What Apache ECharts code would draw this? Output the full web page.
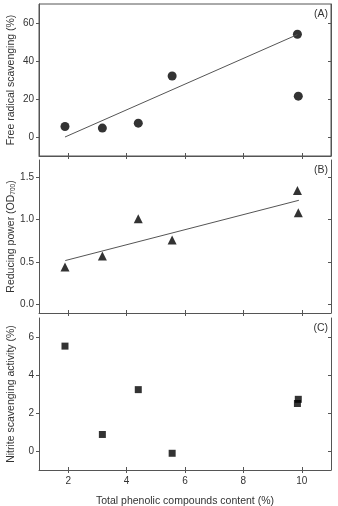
<!DOCTYPE html>
<html>
<head>
<meta charset="utf-8">
<script src="https://cdn.jsdelivr.net/npm/echarts@6/dist/echarts.min.js"></script>
<style>
  html, body { margin: 0; padding: 0; background: #fff; }
  #chart { width: 338px; height: 506px; }
</style>
</head>
<body>
<div id="chart"></div>
<script>
// values
const phenolic = [1.89, 3.17, 4.40, 5.56, 9.85, 9.88];
const freeRadical = [5.5, 4.7, 7.3, 32.1, 54.1, 21.5];
const reducingPower = [0.44, 0.57, 1.01, 0.76, 1.34, 1.08];
const nitrite = [5.52, 0.87, 3.23, -0.12, 2.50, 2.72];
const fitA = [[1.89, 0], [9.85, 53.9]];
const fitB = [[1.90, 0.517], [9.90, 1.226]];

const xTicks = [2, 4, 6, 8, 10];
const yTicksA = [0, 20, 40, 60];
const yTicksB = [0, 0.5, 1.0, 1.5];
const yTicksC = [0, 2, 4, 6];

const panelLabels = ["(A)", "(B)", "(C)"];
const yNames = [
  "Free radical scavenging (%)",
  "Reducing power (OD{sub|700})",
  "Nitrite scavenging activity (%)"
];
const xName = "Total phenolic compounds content (%)";

const font = "Liberation Sans, Arial, sans-serif";
const lineColor = "#555";
const textColor = "#333";

const grids = [
  { left: 39, right: 7, top: 4, height: 152 },
  { left: 39, right: 7, top: 160, height: 153 },
  { left: 39, right: 7, top: 318, height: 152 }
];
const yRanges = [[-10, 70], [-0.1, 1.7], [-1, 7]];
const yTicks = [yTicksA, yTicksB, yTicksC];

let xAxes = [];
let yAxes = [];
grids.forEach((g, p) => {
  let last = p == 2;
  xAxes.push({
    type: "value", gridIndex: p, min: 1, max: 11, position: "bottom",
    axisLine: { show: true, onZero: false, lineStyle: { color: lineColor, width: 1 } },
    axisTick: { show: true, inside: false, length: 3, customValues: xTicks, lineStyle: { color: lineColor } },
    axisLabel: { show: last, customValues: xTicks, fontSize: 10, color: textColor, fontFamily: font, margin: 6 },
    splitLine: { show: false },
    name: last ? xName : "", nameLocation: "middle", nameGap: 26,
    nameTextStyle: { fontSize: 10.5, color: textColor, fontFamily: font }
  });
  xAxes.push({
    type: "value", gridIndex: p, min: 1, max: 11, position: "bottom",
    axisLine: { show: false, onZero: false },
    axisTick: { show: true, inside: true, length: 3, customValues: xTicks, lineStyle: { color: lineColor } },
    axisLabel: { show: false },
    splitLine: { show: false }
  });
  yAxes.push({
    type: "value", gridIndex: p, min: yRanges[p][0], max: yRanges[p][1], position: "left",
    axisLine: { show: true, onZero: false, lineStyle: { color: lineColor, width: 1 } },
    axisTick: { show: true, inside: false, length: 3, customValues: yTicks[p], lineStyle: { color: lineColor } },
    axisLabel: {
      customValues: yTicks[p], fontSize: 10, color: textColor, fontFamily: font, margin: 5,
      formatter: v => (p == 1 ? v.toFixed(1) : String(v))
    },
    splitLine: { show: false },
    name: yNames[p], nameLocation: "middle", nameRotate: 90, nameGap: 22,
    nameMoveOverlap: false,
    nameTextStyle: {
      fontSize: 10.5, color: textColor, fontFamily: font,
      rich: { sub: { fontSize: 6.5, color: textColor, fontFamily: font, verticalAlign: "bottom", padding: [5, 0, 0, 0] } }
    }
  });
  yAxes.push({
    type: "value", gridIndex: p, min: yRanges[p][0], max: yRanges[p][1], position: "right",
    axisLine: { show: true, onZero: false, lineStyle: { color: lineColor, width: 1 } },
    axisTick: { show: true, inside: true, length: 3, customValues: yTicks[p], lineStyle: { color: lineColor } },
    axisLabel: { show: false },
    splitLine: { show: false }
  });
});

function pairs(ys) {
  return phenolic.map((x, i) => [x, ys[i]]);
}

const option = {
  animation: false,
  backgroundColor: "#fff",
  grid: grids.map((g, p) => Object.assign({ outerBoundsMode: "none", containLabel: false }, g, p == 0
    ? { show: true, borderColor: lineColor, borderWidth: 1 }
    : {})),
  title: panelLabels.map((t, p) => ({
    text: t, right: 10, top: grids[p].top + 5,
    textStyle: { fontSize: 10.5, fontWeight: "normal", color: textColor, fontFamily: font },
    padding: 0
  })),
  xAxis: xAxes,
  yAxis: yAxes,
  series: [
    {
      type: "line", xAxisIndex: 0, yAxisIndex: 0, data: fitA, symbol: "none",
      lineStyle: { color: "#555", width: 1 }
    },
    {
      type: "scatter", xAxisIndex: 0, yAxisIndex: 0, data: pairs(freeRadical),
      symbol: "circle", symbolSize: 9, itemStyle: { color: "#000" }
    },
    {
      type: "line", xAxisIndex: 2, yAxisIndex: 2, data: fitB, symbol: "none",
      lineStyle: { color: "#555", width: 1 }
    },
    {
      type: "scatter", xAxisIndex: 2, yAxisIndex: 2, data: pairs(reducingPower),
      symbol: "triangle", symbolSize: 9, itemStyle: { color: "#000" }
    },
    {
      type: "scatter", xAxisIndex: 4, yAxisIndex: 4, data: pairs(nitrite),
      symbol: "rect", symbolSize: 7, itemStyle: { color: "#000" }
    }
  ]
};

let chart = echarts.init(document.getElementById("chart"));
chart.setOption(option);
</script>
</body>
</html>
